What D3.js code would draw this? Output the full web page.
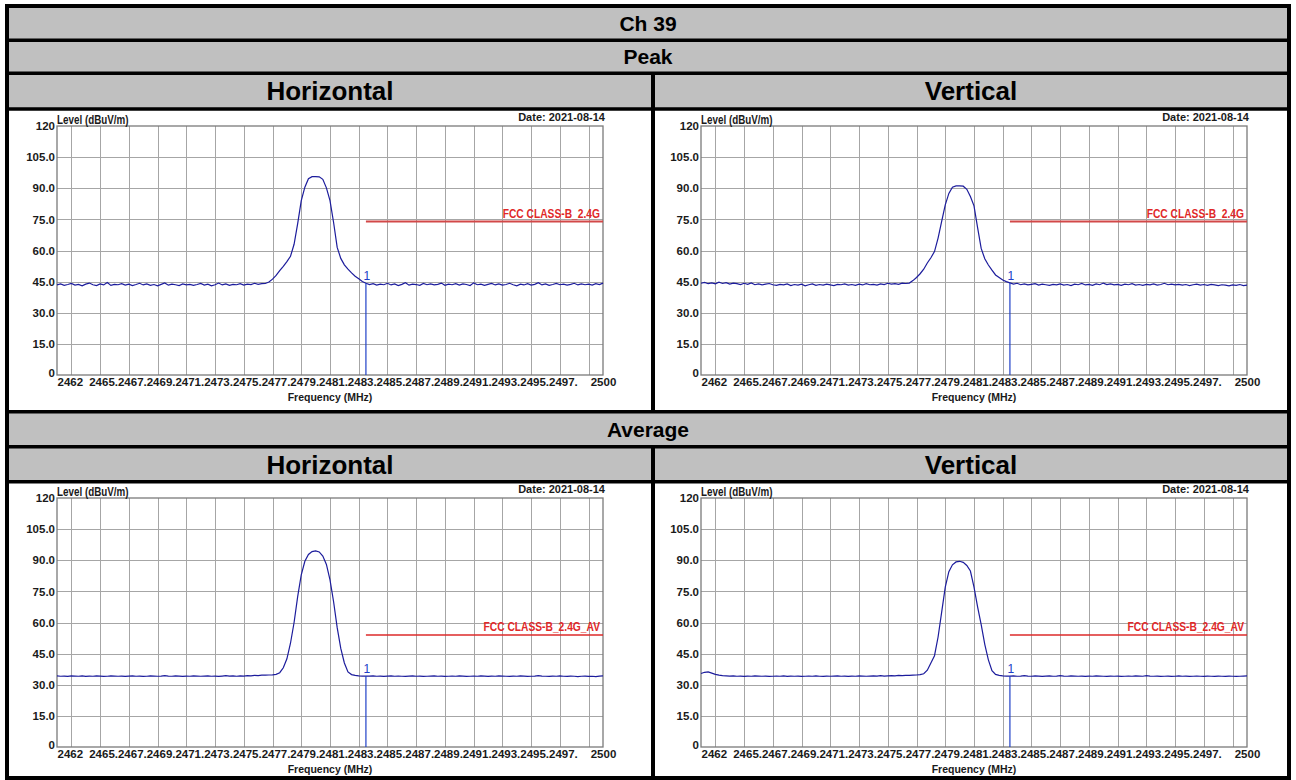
<!DOCTYPE html>
<html>
<head>
<meta charset="utf-8">
<script src="https://cdnjs.cloudflare.com/ajax/libs/d3/7.8.5/d3.min.js"></script>
<style>
body { margin: 0; background: #fff; }
svg { display: block; font-family: "Liberation Sans", Arial, sans-serif; }
.grid line { stroke: #a6a6a6; stroke-width: 1; shape-rendering: crispEdges; }
.grid path { display: none; }
.axis text { font-size: 11.5px; font-weight: bold; fill: #1a1a1a; }
.head { font-weight: bold; fill: #000; }
.lbl { font-size: 11px; font-weight: bold; fill: #1a1a1a; }
</style>
</head>
<body>
<svg id="chart"></svg>
<script>
// values
const title = 'Ch 39';
const detectors = ['Peak', 'Average'];
const polarizations = ['Horizontal', 'Vertical'];
const dateText = 'Date: 2021-08-14';

const sweepStart = 2462;
const sweepStop = 2500;
const sweepStep = 0.25; // trace sampled every 0.25 MHz

const yTicks = [0, 15, 30, 45, 60, 75, 90, 105, 120];
const yTickLabels = ['0', '15.0', '30.0', '45.0', '60.0', '75.0', '90.0', '105.0', '120'];
const gridFreqs = [2463, 2465, 2467, 2469, 2471, 2473, 2475, 2477, 2479, 2481, 2483, 2485, 2487, 2489, 2491, 2493, 2495, 2497, 2499];
const xTickFreqs = [2462, 2465, 2467, 2469, 2471, 2473, 2475, 2477, 2479, 2481, 2483, 2485, 2487, 2489, 2491, 2493, 2495, 2497, 2500];
const xTickLabels = ['2462', '2465.', '2467.', '2469.', '2471.', '2473.', '2475.', '2477.', '2479.', '2481.', '2483.', '2485.', '2487.', '2489.', '2491.', '2493.', '2495.', '2497.', '2500'];

const limitStart = 2483.5;
const limitLevels = [74, 54];
const limitLabels = ['FCC CLASS-B_2.4G', 'FCC CLASS-B_2.4G_AV'];
const markerFreq = 2483.5;
const markerLabel = '1';

// levels in dBuV/m, 2462 .. 2500 MHz
const peakH = [
  43.4, 43.9, 43.2, 43.6, 44.1, 43.3, 43.7, 43.0, 43.8, 44.3, 43.5, 43.1, 43.9, 43.4, 44.6, 43.2, 43.7, 43.5, 44.0, 43.3,
  43.8, 43.1, 43.6, 44.2, 43.4, 43.9, 43.2, 43.6, 43.0, 43.7, 44.4, 43.3, 43.8, 43.5, 43.1, 43.9, 43.4, 43.7, 43.2, 43.6,
  44.1, 43.3, 43.8, 43.0, 43.5, 44.3, 43.4, 43.9, 43.2, 43.7, 43.5, 44.0, 43.3, 43.8, 43.6, 44.2, 43.7, 44.0,
  44.1, 44.8, 46.2, 48.0, 50.3, 52.4, 54.6, 57.2, 63.0, 73.0, 84.0, 90.5, 94.6, 95.6, 95.6, 95.5, 94.3, 90.2, 84.0, 73.5,
  61.5, 56.2, 53.1, 51.0, 49.2, 47.6, 46.4, 45.1, 44.2,
  43.6, 44.0, 43.3, 43.8, 43.5, 44.2, 43.4, 43.9, 43.1, 43.7, 44.5, 43.3, 43.8, 43.6, 43.2, 44.1, 43.5, 43.9, 43.4, 43.7,
  44.3, 43.2, 43.8, 43.5, 44.0, 43.3, 43.9, 43.6, 43.1, 44.4, 43.5, 43.8, 43.2, 43.7, 44.1, 43.4, 43.9, 43.3, 43.6, 44.2,
  43.5, 43.0, 43.8, 43.4, 44.0, 43.3, 43.7, 44.5, 43.4, 43.9, 43.2, 43.6, 44.1, 43.5, 43.8, 43.3, 43.7, 44.2, 43.4, 43.9,
  43.5, 43.8, 43.3, 44.0, 43.6, 44.3
];
const peakV = [
  44.2, 44.6, 44.0, 44.4, 43.9, 44.7, 44.1, 44.5, 43.8, 44.3, 44.0, 43.6, 44.2, 43.7, 44.4, 43.5, 43.9, 43.4, 43.8, 44.1,
  43.5, 43.2, 43.7, 43.4, 43.9, 43.1, 43.6, 43.3, 43.8, 43.0, 43.5, 43.9, 43.2, 43.6, 43.3, 43.8, 43.4, 43.1, 43.7, 43.5,
  43.9, 43.3, 43.6, 43.2, 43.8, 43.4, 44.0, 43.5, 43.7, 43.3, 43.9, 43.6, 44.2, 43.8, 44.0, 43.7, 44.3, 44.1,
  44.3, 45.5, 47.0, 48.8, 51.0, 54.0, 56.5, 59.5, 66.0, 74.0, 82.0, 87.5, 90.5, 91.1, 91.1, 91.0, 89.5, 86.0, 81.5, 71.0,
  61.0, 56.0, 53.0, 50.5, 48.2, 47.0, 45.8, 45.0, 44.4,
  43.8, 44.2, 43.5, 43.9, 43.4, 43.7, 44.0, 43.3, 43.8, 43.5, 43.2, 43.7, 43.4, 43.9, 43.3, 43.6, 43.1, 43.8, 43.5, 44.1,
  43.4, 43.7, 43.2, 43.9, 43.5, 44.3, 43.6, 43.9, 43.4, 43.7, 43.2, 43.8, 43.5, 44.0, 43.3, 43.6, 43.2, 43.7, 43.4, 43.9,
  43.3, 43.6, 44.2, 43.5, 43.8, 43.4, 43.7, 43.3, 43.6, 43.1, 43.5, 43.8, 43.3, 43.6, 43.2, 43.7, 43.4, 43.1, 43.5, 43.3,
  43.0, 43.4, 43.2, 43.6, 43.1, 43.3
];
const avgH = [
  34.3, 34.1, 34.2, 34.0, 34.3, 34.2, 34.1, 34.3, 34.0, 34.2, 34.1, 34.3, 34.2, 34.0, 34.1, 34.3, 34.2, 34.1, 34.2, 34.0,
  34.2, 34.3, 34.1, 34.2, 34.0, 34.1, 34.3, 34.2, 34.1, 34.2, 34.4, 34.2, 34.1, 34.3, 34.2, 34.0, 34.2, 34.1, 34.3, 34.2,
  34.1, 34.2, 34.3, 34.1, 34.2, 34.0, 34.2, 34.4, 34.2, 34.3, 34.1, 34.3, 34.2, 34.4, 34.3, 34.5, 34.4, 34.6,
  34.6, 34.7, 34.8, 35.0, 35.8, 38.2, 42.5, 50.0, 60.0, 72.5, 83.0, 89.5, 92.8, 94.2, 94.5, 94.0, 92.0, 88.0, 80.5, 70.0,
  57.5, 47.5, 40.5, 36.2, 34.9, 34.5, 34.3, 34.2, 34.2,
  34.2, 34.3, 34.1, 34.2, 34.0, 34.2, 34.3, 34.1, 34.2, 34.1, 34.0, 34.2, 34.3, 34.1, 34.2, 34.0, 34.1, 34.2, 34.3, 34.1,
  34.2, 34.0, 34.1, 34.2, 34.1, 34.3, 34.2, 34.0, 34.1, 34.2, 34.1, 34.3, 34.2, 34.0, 34.2, 34.1, 34.3, 34.2, 34.1, 34.0,
  34.2, 34.1, 34.3, 34.2, 34.0, 34.1, 34.2, 34.4, 34.2, 34.1, 34.0, 34.2, 34.1, 34.3, 34.1, 34.0, 34.2, 34.1, 33.9, 34.1,
  34.2, 34.0, 34.1, 33.9, 34.2, 34.3
];
const avgV = [
  35.4, 36.0, 36.2, 35.6, 35.0, 34.6, 34.4, 34.3, 34.2, 34.3, 34.1, 34.2, 34.0, 34.2, 34.1, 34.3, 34.2, 34.1, 34.2, 34.0,
  34.1, 34.2, 34.1, 34.3, 34.0, 34.2, 34.1, 34.2, 34.0, 34.1, 34.2, 34.1, 34.3, 34.1, 34.0, 34.2, 34.1, 34.2, 34.3, 34.1,
  34.2, 34.0, 34.2, 34.1, 34.3, 34.2, 34.1, 34.2, 34.3, 34.2, 34.4, 34.2, 34.3, 34.4, 34.3, 34.5, 34.4, 34.5,
  34.5, 34.6, 34.7, 34.9, 35.3, 37.0, 40.5, 44.0, 53.0, 65.0, 77.0, 84.5, 87.8, 89.2, 89.5, 89.0, 87.5, 84.8, 77.0, 67.5,
  59.0, 49.5, 42.0, 36.8, 35.0, 34.5, 34.3, 34.2, 34.2,
  34.3, 34.1, 34.2, 34.4, 34.2, 34.1, 34.3, 34.2, 34.0, 34.2, 34.3, 34.1, 34.2, 34.4, 34.2, 34.1, 34.3, 34.2, 34.1, 34.2,
  34.0, 34.2, 34.1, 34.3, 34.2, 34.1, 34.0, 34.2, 34.1, 34.2, 34.0, 34.1, 34.2, 34.1, 34.3, 34.2, 34.1, 34.4, 34.2, 34.1,
  34.2, 34.0, 34.1, 34.2, 34.0, 34.1, 34.3, 34.1, 34.2, 34.0, 34.1, 34.2, 34.1, 34.0, 34.2, 34.1, 34.0, 34.2, 34.1, 34.0,
  34.2, 34.1, 34.0, 34.1, 34.2, 34.3
];

let w = 1296;
let h = 780;

let svg = d3.select('#chart')
    .attr('width', w)
    .attr('height', h);

// table frame
let left = 7, right = 1289, mid = 653;
let rows = [6, 40.3, 73.2, 109, 411.7, 446.7, 481.7, 778];
let grey = '#c0c0c0';

let headRows = [
    {i: 0, text: [title], size: 21},
    {i: 1, text: [detectors[0]], size: 21},
    {i: 2, text: polarizations, size: 26},
    {i: 4, text: [detectors[1]], size: 21},
    {i: 5, text: polarizations, size: 26}
];

headRows.forEach(r => {
    svg.append('rect')
        .attr('x', left).attr('y', rows[r.i])
        .attr('width', right - left).attr('height', rows[r.i + 1] - rows[r.i])
        .attr('fill', grey);
    let cy = (rows[r.i] + rows[r.i + 1]) / 2;
    let xs = r.text.length === 1 ? [(left + right) / 2] : [(left + mid) / 2, (mid + right) / 2];
    r.text.forEach((t, k) => {
        svg.append('text')
            .attr('class', 'head')
            .attr('x', xs[k]).attr('y', cy)
            .attr('dy', '0.36em')
            .attr('text-anchor', 'middle')
            .style('font-size', r.size + 'px')
            .text(t);
    });
});

rows.slice(1, -1).forEach(yy => {
    svg.append('line')
        .attr('x1', left).attr('x2', right)
        .attr('y1', yy).attr('y2', yy)
        .attr('stroke', '#000').attr('stroke-width', 3.5);
});
[[rows[2], rows[4]], [rows[5], rows[7]]].forEach(s => {
    svg.append('line')
        .attr('x1', mid).attr('x2', mid)
        .attr('y1', s[0]).attr('y2', s[1])
        .attr('stroke', '#000').attr('stroke-width', 4);
});

// the four spectrum plots
let plotW = 546;
let plotH = 249;
let charts = [
    {x: 57, y: 126, data: peakH, lim: 0},
    {x: 701, y: 126, data: peakV, lim: 0},
    {x: 57, y: 498, data: avgH, lim: 1},
    {x: 701, y: 498, data: avgV, lim: 1}
];

charts.forEach(c => drawChart(c));

svg.append('rect')
    .attr('x', left).attr('y', rows[0])
    .attr('width', right - left).attr('height', rows[7] - rows[0])
    .attr('fill', 'none').attr('stroke', '#000').attr('stroke-width', 4);

function drawChart(c) {
    let g = svg.append('g').attr('transform', `translate(${c.x}, ${c.y})`);

    let x = d3.scaleLinear().domain([sweepStart, sweepStop]).range([0, plotW]);
    let y = d3.scaleLinear().domain([0, 120]).range([plotH, 0]);

    g.append('g')
        .attr('class', 'grid')
        .attr('transform', `translate(0, ${plotH})`)
        .call(d3.axisBottom(x).tickValues(gridFreqs).tickSize(-plotH).tickFormat(''));

    g.append('g')
        .attr('class', 'grid')
        .call(d3.axisLeft(y).tickValues(yTicks.slice(1, -1)).tickSize(-plotW).tickFormat(''));

    g.append('rect')
        .attr('width', plotW).attr('height', plotH)
        .attr('fill', 'none')
        .attr('stroke', '#7a7a7a')
        .attr('stroke-width', 1.3);

    let $x = g.append('g')
        .attr('class', 'axis')
        .attr('transform', `translate(0, ${plotH})`)
        .call(d3.axisBottom(x)
            .tickValues(xTickFreqs)
            .tickSize(0)
            .tickPadding(3)
            .tickFormat((d, i) => xTickLabels[i]));
    $x.select('.domain').remove();
    $x.selectAll('text')
        .attr('text-anchor', (d, i) => i === 0 ? 'start' : 'middle')
        .attr('dx', (d, i) => (i === 0 || i === xTickFreqs.length - 1) ? 0 : 3);

    let $y = g.append('g')
        .attr('class', 'axis')
        .call(d3.axisLeft(y)
            .tickValues(yTicks)
            .tickSize(0)
            .tickPadding(2)
            .tickFormat((d, i) => yTickLabels[i]));
    $y.select('.domain').remove();
    $y.selectAll('text')
        .attr('dy', (d, i) => i === 0 ? '0.1em' : '0.32em');

    // condensed look of the analyser labels
    g.append('text').attr('class', 'lbl')
        .attr('transform', 'translate(0, -2) scale(0.82, 1)')
        .style('font-size', '12px')
        .text('Level (dBuV/m)');
    g.append('text').attr('class', 'lbl')
        .attr('x', plotW + 2).attr('y', -5)
        .attr('text-anchor', 'end')
        .text(dateText);
    g.append('text').attr('class', 'lbl')
        .attr('x', plotW / 2).attr('y', plotH + 25.5)
        .attr('text-anchor', 'middle')
        .style('font-size', '10.5px')
        .text('Frequency (MHz)');

    // limit line
    let lv = limitLevels[c.lim];
    g.append('line')
        .attr('x1', x(limitStart)).attr('x2', x(sweepStop))
        .attr('y1', y(lv)).attr('y2', y(lv))
        .attr('stroke', c.lim === 0 ? '#d24848' : '#dd2a2a')
        .attr('stroke-width', c.lim === 0 ? 2 : 1.5);
    g.append('text')
        .attr('transform', `translate(${plotW - 3}, ${y(lv) - 3.5}) scale(0.82, 1)`)
        .attr('text-anchor', 'end')
        .attr('fill', '#e02828')
        .style('font-size', '12.5px')
        .style('font-weight', 'bold')
        .text(limitLabels[c.lim]);

    // trace
    let line = d3.line()
        .x((d, i) => x(sweepStart + i * sweepStep))
        .y(d => y(d));
    g.append('path')
        .datum(c.data)
        .attr('fill', 'none')
        .attr('stroke', '#1c1c9c')
        .attr('stroke-width', 1.2)
        .attr('d', line);

    // marker 1
    let mi = Math.round((markerFreq - sweepStart) / sweepStep);
    let mv = c.data[mi];
    g.append('line')
        .attr('x1', x(markerFreq)).attr('x2', x(markerFreq))
        .attr('y1', y(mv)).attr('y2', y(0))
        .attr('stroke', '#2040c8')
        .attr('stroke-width', 1.2);
    g.append('text')
        .attr('x', x(markerFreq) + 1).attr('y', y(mv) - 3)
        .attr('text-anchor', 'middle')
        .attr('fill', '#2040c8')
        .style('font-size', '12px')
        .text(markerLabel);
}
</script>
</body>
</html>
